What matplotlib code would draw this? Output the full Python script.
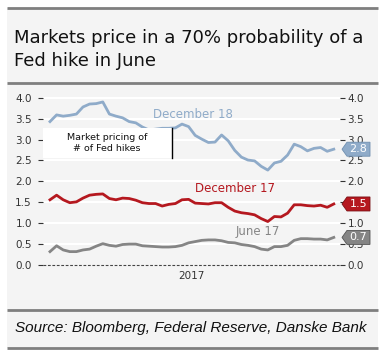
import numpy as np
import matplotlib
matplotlib.use("Agg")
import matplotlib.pyplot as plt
from matplotlib.patches import Rectangle, Polygon
from matplotlib.lines import Line2D
from matplotlib.transforms import IdentityTransform

# market pricing of number of Fed hikes, by meeting
dec18 = [3.43, 3.59, 3.56, 3.58, 3.61, 3.78, 3.85, 3.86, 3.90, 3.61, 3.56, 3.52,
         3.43, 3.40, 3.30, 3.23, 3.25, 3.27, 3.27, 3.28, 3.37, 3.31, 3.10, 3.01,
         2.93, 2.94, 3.11, 2.97, 2.74, 2.58, 2.51, 2.49, 2.36, 2.27, 2.44, 2.48,
         2.63, 2.89, 2.83, 2.73, 2.79, 2.81, 2.72, 2.77]
dec17 = [1.56, 1.67, 1.56, 1.49, 1.51, 1.60, 1.67, 1.69, 1.70, 1.59, 1.56, 1.60,
         1.59, 1.55, 1.49, 1.47, 1.47, 1.41, 1.45, 1.47, 1.56, 1.57, 1.48, 1.47,
         1.46, 1.49, 1.49, 1.38, 1.29, 1.25, 1.23, 1.20, 1.11, 1.04, 1.16, 1.15,
         1.24, 1.44, 1.44, 1.42, 1.41, 1.43, 1.38, 1.46]
jun17 = [0.32, 0.46, 0.36, 0.32, 0.32, 0.36, 0.38, 0.45, 0.51, 0.47, 0.45, 0.49,
         0.50, 0.50, 0.46, 0.45, 0.44, 0.43, 0.43, 0.44, 0.47, 0.53, 0.56, 0.59,
         0.60, 0.60, 0.58, 0.54, 0.53, 0.49, 0.47, 0.44, 0.38, 0.36, 0.44, 0.44,
         0.47, 0.59, 0.63, 0.63, 0.62, 0.62, 0.60, 0.66]
series_names = ["December 18", "December 17", "June 17"]
yticks = [0.0, 0.5, 1.0, 1.5, 2.0, 2.5, 3.0, 3.5, 4.0]
year_label = "2017"

W, H = 387, 354
BG = "#f4f4f4"
BLUE = "#8fabc9"
RED = "#b5181f"
GREY = "#858585"
DIV = "#7f7f7f"


def fx(px):
    return px / W


def fy(py):
    return 1 - py / H


fig = plt.figure(figsize=(W / 100, H / 100), dpi=100)
fig.patch.set_facecolor("white")

# panel + divider lines
fig.add_artist(Rectangle((fx(7), fy(348)), fx(378) - fx(7), fy(8) - fy(348),
                         transform=fig.transFigure, facecolor=BG, edgecolor="none", zorder=0))
for yy in [8, 83, 310, 348]:
    fig.add_artist(Line2D([fx(7), fx(378)], [fy(yy), fy(yy)], transform=fig.transFigure,
                          color=DIV, lw=2.0, solid_capstyle="butt"))

fig.text(fx(14), fy(43), "Markets price in a 70% probability of a",
         family="DejaVu Sans", fontsize=13, color="#111111", ha="left", va="baseline")
fig.text(fx(14), fy(66), "Fed hike in June",
         family="DejaVu Sans", fontsize=13, color="#111111", ha="left", va="baseline")
fig.text(fx(15), fy(332), "Source: Bloomberg, Federal Reserve, Danske Bank",
         family="Liberation Sans", style="italic", fontsize=11, color="#111111",
         ha="left", va="baseline")

ax = fig.add_axes([fx(43), fy(265), fx(340) - fx(43), fy(89.4) - fy(265)])
ax.set_facecolor("none")
x = np.arange(len(dec18))
ax.set_xlim(-1.06, len(dec18) - 1 + 0.94)
ax.set_ylim(0, 4.2)

for yv in yticks[1:]:
    ax.axhline(yv, color="white", lw=1.5, zorder=1)

ax.plot(x, dec18, color=BLUE, lw=2.0, zorder=3)
ax.plot(x, dec17, color=RED, lw=2.0, zorder=3)
ax.plot(x, jun17, color=GREY, lw=2.0, zorder=3)
ax.axhline(0, color="#444444", lw=0.8, linestyle=(0, (2.5, 1.5)), zorder=2, clip_on=False)

for sp in ax.spines.values():
    sp.set_visible(False)

ax.set_yticks(yticks)
ax.set_yticklabels([f"{v:.1f}" for v in yticks])
ax.tick_params(axis="y", length=3.5, width=0.8, color="#333333", pad=4.5,
               labelsize=7.5, labelcolor="#333333")
ax.set_xticks([(len(dec18) - 1) / 2])
ax.set_xticklabels([year_label])
ax.tick_params(axis="x", length=0, pad=4, labelsize=7.5, labelcolor="#333333")

# right axis; the 1.5 label sits fully under the December 17 tag
ax2 = ax.twinx()
ax2.set_ylim(ax.get_ylim())
ax2.set_yticks(yticks)
ax2.set_yticklabels(["" if v == 1.5 else f"{v:.1f}" for v in yticks])
ax2.tick_params(axis="y", length=3.5, width=0.8, color="#333333", pad=2,
                labelsize=7.5, labelcolor="#333333")
for sp in ax2.spines.values():
    sp.set_visible(False)

# series labels
ax.text(21.7, 3.61, series_names[0], color=BLUE, fontsize=8.5, ha="center", va="center", zorder=4)
ax.text(28.1, 1.84, series_names[1], color=RED, fontsize=8.5, ha="center", va="center", zorder=4)
ax.text(31.5, 0.79, series_names[2], color=GREY, fontsize=8.5, ha="center", va="center", zorder=4)

# note box
fig.add_artist(Rectangle((fx(43), fy(158)), fx(172) - fx(43), fy(128) - fy(158),
                         transform=fig.transFigure, facecolor="white", edgecolor="none", zorder=5))
fig.add_artist(Line2D([fx(171.5), fx(171.5)], [fy(158), fy(128)], transform=fig.transFigure,
                      color="black", lw=1.0, zorder=6))
fig.text(fx(107), fy(143), "Market pricing of\n# of Fed hikes", fontsize=6.8, color="#111111",
         ha="center", va="center", linespacing=1.3, zorder=7)

# end-value tags
for vals, col, edge in [(dec18, BLUE, "#6f8fb0"), (dec17, RED, "#7a0f14"), (jun17, GREY, "#555555")]:
    v = vals[-1]
    yd = H - (265 - v * 41.8)
    verts = [(342, yd), (347, yd + 7), (370, yd + 7), (370, yd - 7), (347, yd - 7)]
    fig.add_artist(Polygon(verts, closed=True, transform=IdentityTransform(),
                           facecolor=col, edgecolor=edge, lw=0.6, zorder=8))
    fig.text(358.5, yd, f"{round(v, 1):.1f}", transform=IdentityTransform(), fontsize=8,
             color="white", ha="center", va="center", zorder=9)

fig.savefig("out.png", dpi=100)
